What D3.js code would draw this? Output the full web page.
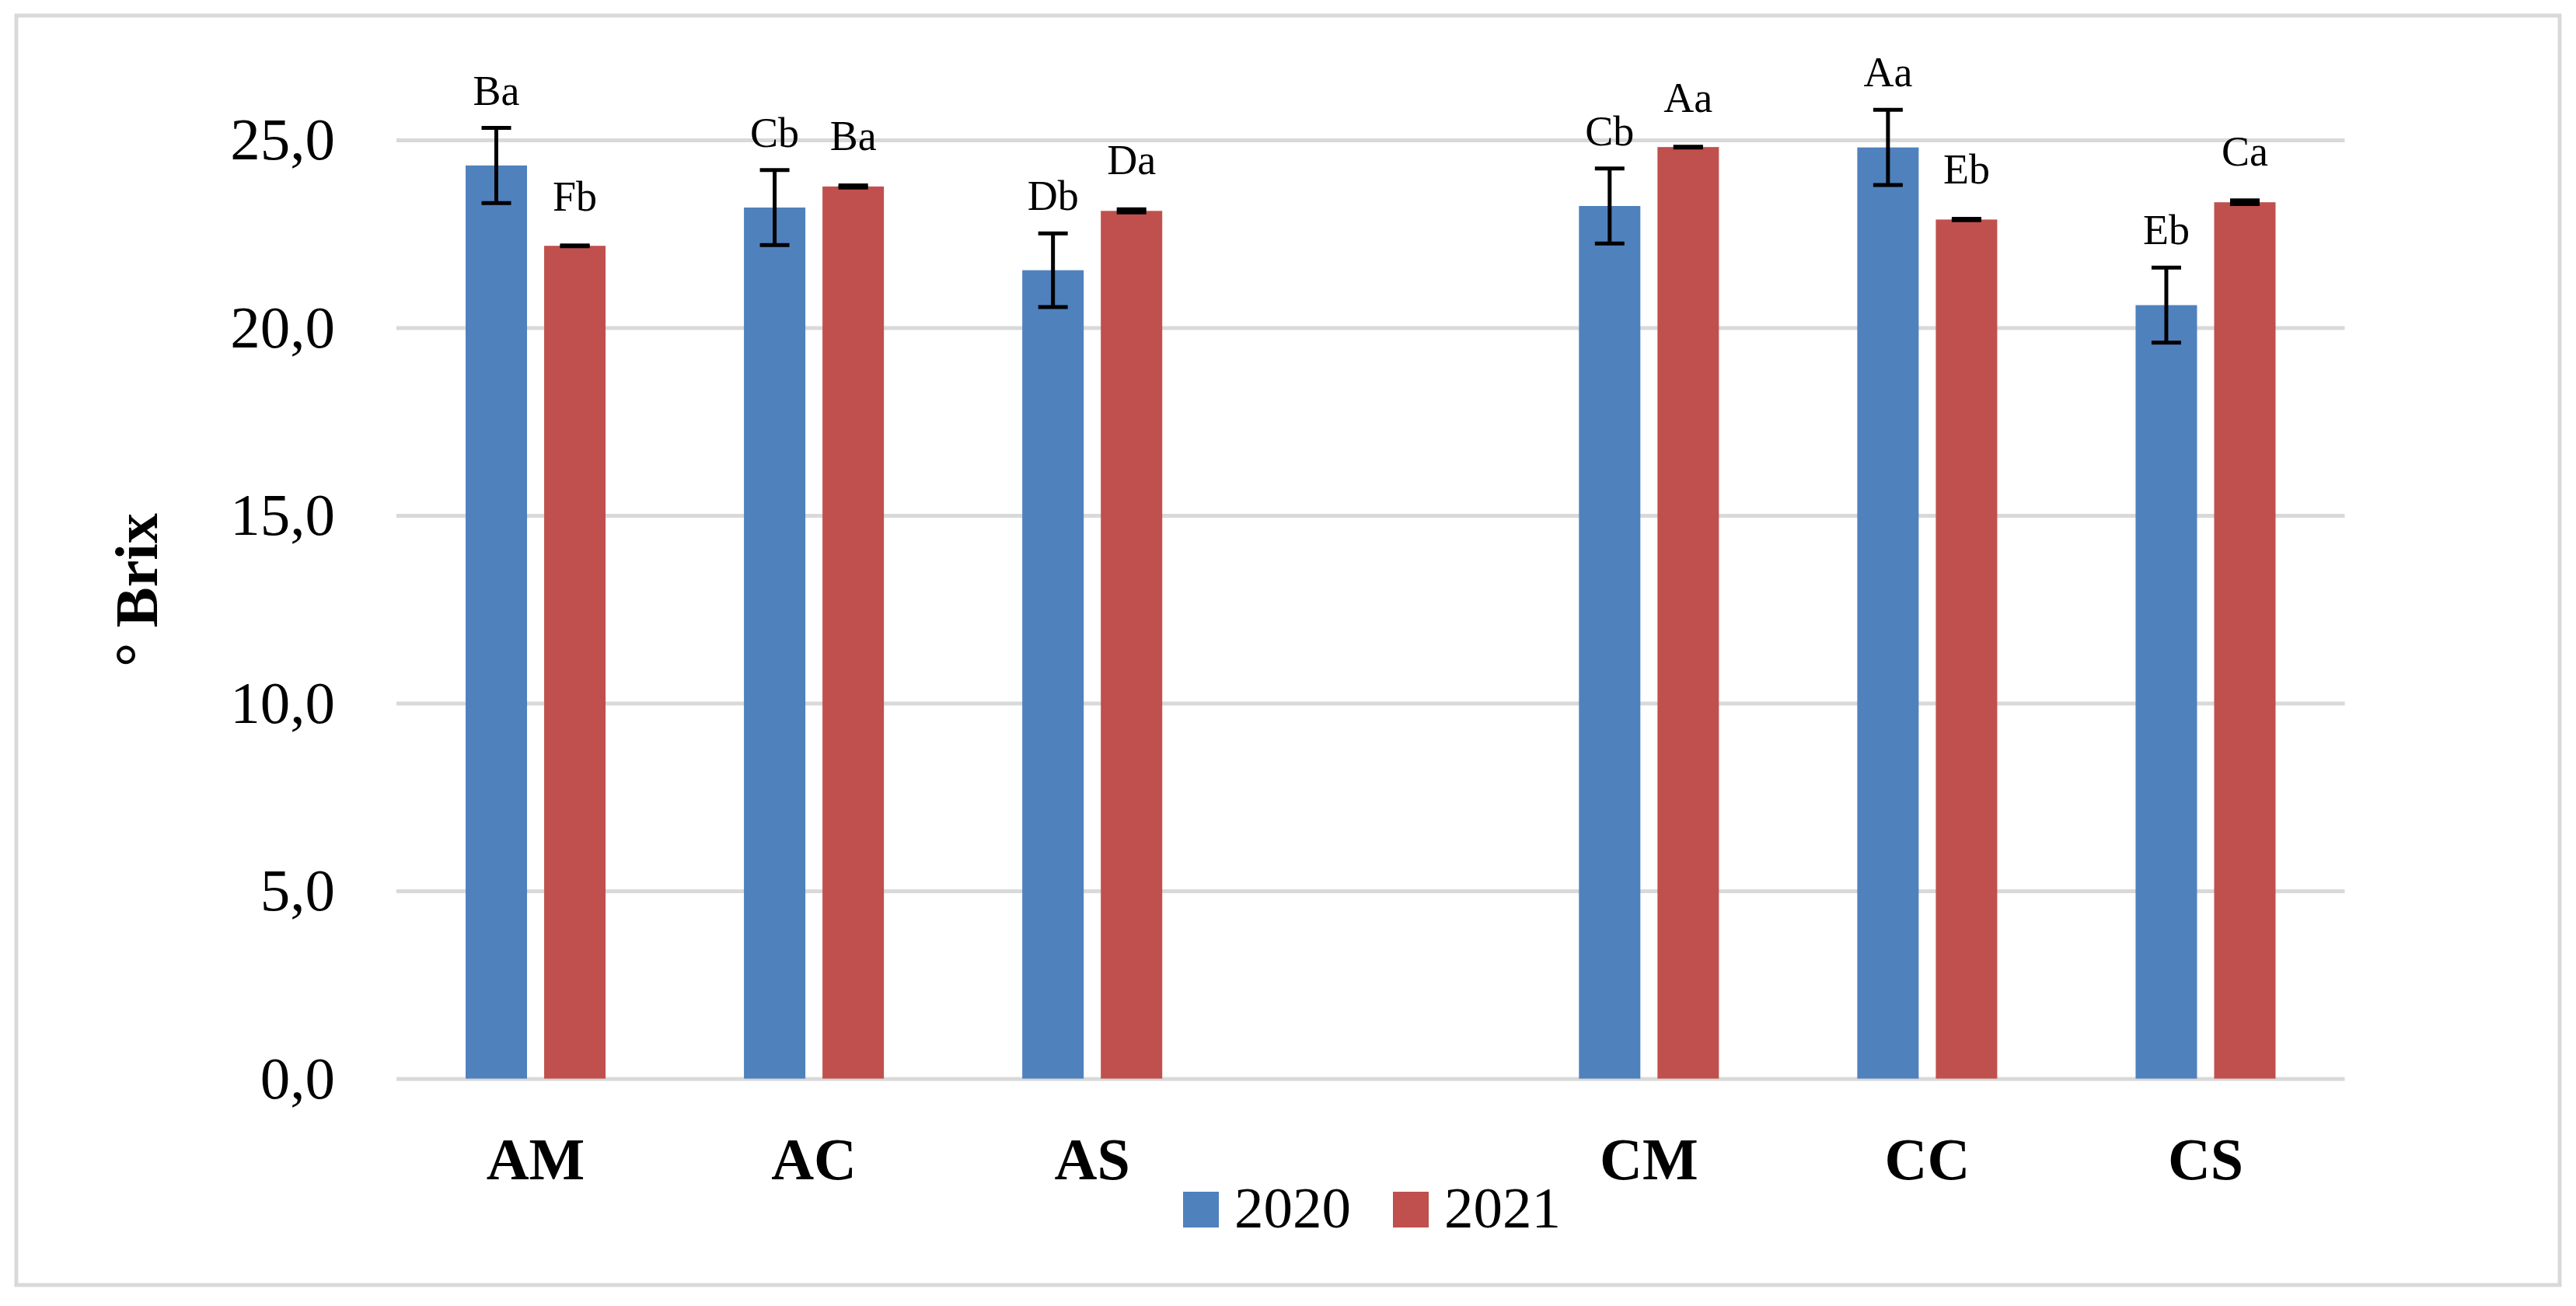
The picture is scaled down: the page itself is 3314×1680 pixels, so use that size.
<!DOCTYPE html>
<html>
<head>
<meta charset="utf-8">
<script src="https://cdn.jsdelivr.net/npm/d3@7/dist/d3.min.js"></script>
<style>
    body { margin: 0; background: white; }
    text { font-family: "Liberation Serif", "Times New Roman", serif; fill: black; }
</style>
</head>
<body>
<div id="chart"></div>
<script>
var slots = ['AM', 'AC', 'AS', '', 'CM', 'CC', 'CS'];
var categories = ['AM', 'AC', 'AS', 'CM', 'CC', 'CS'];
var seriesNames = ['2020', '2021'];
var values2020 = [24.32, 23.20, 21.53, 23.24, 24.80, 20.60];
var errors2020 = [1.00, 1.00, 0.98, 1.00, 1.00, 1.00];
var values2021 = [22.18, 23.76, 23.11, 24.81, 22.88, 23.34];
var errors2021 = [0.01, 0.03, 0.04, 0.01, 0.02, 0.05];
var letters2020 = ['Ba', 'Cb', 'Db', 'Cb', 'Aa', 'Eb'];
var letters2021 = ['Fb', 'Ba', 'Da', 'Aa', 'Eb', 'Ca'];
var yTicks = [0, 5, 10, 15, 20, 25];

var colors = { '2020': '#4f81bd', '2021': '#c0504d' };
var gridColor = '#d9d9d9';

function createChart(containerId) {
    var width = 3314;
    var height = 1680;
    var plot = { left: 510, right: 3016.5, top: 180, bottom: 1387.5 };

    var svg = d3.select(containerId).append('svg')
        .attr('width', width)
        .attr('height', height)
        .attr('viewBox', '0 0 ' + width + ' ' + height);

    svg.append('rect')
        .attr('x', 21)
        .attr('y', 20)
        .attr('width', 3272)
        .attr('height', 1633)
        .attr('fill', 'white')
        .attr('stroke', gridColor)
        .attr('stroke-width', 5);

    var y = d3.scaleLinear().domain([0, 25]).range([plot.bottom, plot.top]);
    var x = d3.scaleBand().domain(slots).range([plot.left, plot.right]);
    var xInner = d3.scaleBand().domain(seriesNames).range([0, x.bandwidth()])
        .paddingInner(0.218).paddingOuter(0.881);

    var comma = d3.formatLocale({ decimal: ',', thousands: '.', grouping: [3], currency: ['', ''] }).format('.1f');

    // y axis with gridlines
    var yAxis = svg.append('g')
        .attr('transform', 'translate(' + plot.left + ',0)')
        .call(d3.axisLeft(y).tickValues(yTicks).tickFormat(comma)
            .tickSize(-(plot.right - plot.left)).tickPadding(79));
    yAxis.select('.domain').remove();
    yAxis.selectAll('.tick line')
        .attr('stroke', gridColor)
        .attr('stroke-width', 5);
    yAxis.selectAll('.tick text')
        .attr('font-size', 77)
        .attr('font-family', '"Liberation Serif", serif')
        .attr('fill', 'black');

    // x axis labels
    var xAxis = svg.append('g')
        .attr('transform', 'translate(0,' + plot.bottom + ')')
        .call(d3.axisBottom(x).tickSize(0).tickPadding(76));
    xAxis.select('.domain').remove();
    xAxis.selectAll('.tick text')
        .attr('font-size', 76)
        .attr('font-weight', 'bold')
        .attr('font-family', '"Liberation Serif", serif')
        .attr('fill', 'black');

    var series = [
        { name: '2020', values: values2020, errors: errors2020, letters: letters2020, gap: 30 },
        { name: '2021', values: values2021, errors: errors2021, letters: letters2021, gap: 45 }
    ];

    series.forEach(function(s) {
        var rows = categories.map(function(c, i) {
            return { cat: c, value: s.values[i], err: s.errors[i], letter: s.letters[i] };
        });
        var g = svg.append('g');
        var cx = function(d) {
            return x(d.cat) + xInner(s.name) + xInner.bandwidth() / 2;
        };

        g.selectAll('rect')
            .data(rows)
            .enter()
            .append('rect')
            .attr('x', function(d) { return x(d.cat) + xInner(s.name); })
            .attr('y', function(d) { return y(d.value); })
            .attr('width', xInner.bandwidth())
            .attr('height', function(d) { return y(0) - y(d.value); })
            .attr('fill', colors[s.name]);

        // error bars
        var eb = g.selectAll('g.err')
            .data(rows)
            .enter()
            .append('g')
            .attr('class', 'err')
            .attr('stroke', 'black')
            .attr('stroke-width', 5);
        eb.append('line')
            .attr('x1', cx).attr('x2', cx)
            .attr('y1', function(d) { return y(d.value + d.err); })
            .attr('y2', function(d) { return y(d.value - d.err); });
        eb.append('line')
            .attr('x1', function(d) { return cx(d) - 19; })
            .attr('x2', function(d) { return cx(d) + 19; })
            .attr('y1', function(d) { return y(d.value + d.err); })
            .attr('y2', function(d) { return y(d.value + d.err); });
        eb.append('line')
            .attr('x1', function(d) { return cx(d) - 19; })
            .attr('x2', function(d) { return cx(d) + 19; })
            .attr('y1', function(d) { return y(d.value - d.err); })
            .attr('y2', function(d) { return y(d.value - d.err); });

        // significance letters
        g.selectAll('text')
            .data(rows)
            .enter()
            .append('text')
            .text(function(d) { return d.letter; })
            .attr('x', cx)
            .attr('y', function(d) { return y(d.value + d.err) - s.gap; })
            .attr('text-anchor', 'middle')
            .attr('font-size', 54);
    });

    // y axis title
    svg.append('text')
        .text('° Brix')
        .attr('transform', 'translate(202,759) rotate(-90)')
        .attr('text-anchor', 'middle')
        .attr('font-size', 78)
        .attr('font-weight', 'bold');

    // legend
    var legendX = [1522, 1792];
    var legend = svg.append('g');
    seriesNames.forEach(function(name, i) {
        legend.append('rect')
            .attr('x', legendX[i])
            .attr('y', 1533)
            .attr('width', 46)
            .attr('height', 46)
            .attr('fill', colors[name]);
        legend.append('text')
            .text(name)
            .attr('x', legendX[i] + 66)
            .attr('y', 1579)
            .attr('font-size', 75);
    });
}

createChart('#chart');
</script>
</body>
</html>
